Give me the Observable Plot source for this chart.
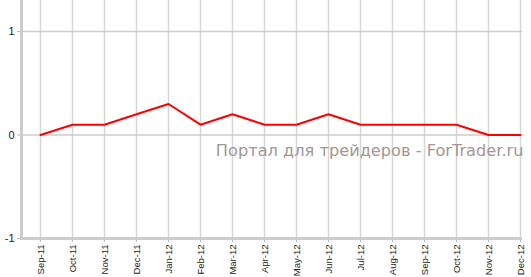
<!DOCTYPE html>
<html><head><meta charset="utf-8">
<script src="https://cdn.jsdelivr.net/npm/d3@7"></script>
<script src="https://cdn.jsdelivr.net/npm/@observablehq/plot@0.6"></script>
<style>body{margin:0;background:#fff}</style>
</head><body><div id="chart"></div>
<script>
const months = ["Sep-11","Oct-11","Nov-11","Dec-11","Jan-12","Feb-12","Mar-12","Apr-12","May-12","Jun-12","Jul-12","Aug-12","Sep-12","Oct-12","Nov-12","Dec-12"];
const values = [0,0.1,0.1,0.2,0.3,0.1,0.2,0.1,0.1,0.2,0.1,0.1,0.1,0.1,0,0];
const yTicks = [-1,0,1];
const watermark = "Портал для трейдеров - ForTrader.ru";
const data = months.map((m,i)=>({month:m, value:values[i]}));

const chart = Plot.plot({
  width: 531, height: 277,
  marginLeft: 21, marginRight: 9, marginTop: 0, marginBottom: 39,
  style: {fontFamily: "'Liberation Sans', Arial, sans-serif", fontSize: "10px", background: "#fff", overflow: "visible"},
  x: {type: "point", domain: months, range: [38, 522], padding: 0, label: null},
  y: {domain: [-1, 1.3], range: [238, 0], label: null},
  marks: [
    Plot.ruleX(months, {stroke: "#d6d6d6", strokeWidth: 1.5}),
    Plot.ruleY([0, 1], {stroke: "#cccccc", strokeWidth: 1.5}),
    Plot.text([watermark], {frameAnchor: "right", dx: 1, dy: 31, fill: "#a49696", fontSize: 16.2, fontFamily: "'DejaVu Sans', Verdana, sans-serif", textAnchor: "end"}),
    Plot.axisY(yTicks, {ticks: yTicks, tickFormat: d => String(d), tickSize: 4, stroke: "#bbb", color: "#222", fontSize: 11, tickPadding: 3}),
    Plot.axisX({tickRotate: -90, tickSize: 4, stroke: "#bbb", color: "#222", fontSize: 9.5, tickPadding: 2}),
    Plot.ruleY([-1], {stroke: "#cccccc", strokeWidth: 3}),
    Plot.frame({anchor: "left", stroke: "#cccccc", strokeWidth: 3}),
    Plot.line(data, {x: "month", y: "value", stroke: "#ff0000", strokeWidth: 2})
  ]
});
document.getElementById("chart").appendChild(chart);
</script></body></html>
